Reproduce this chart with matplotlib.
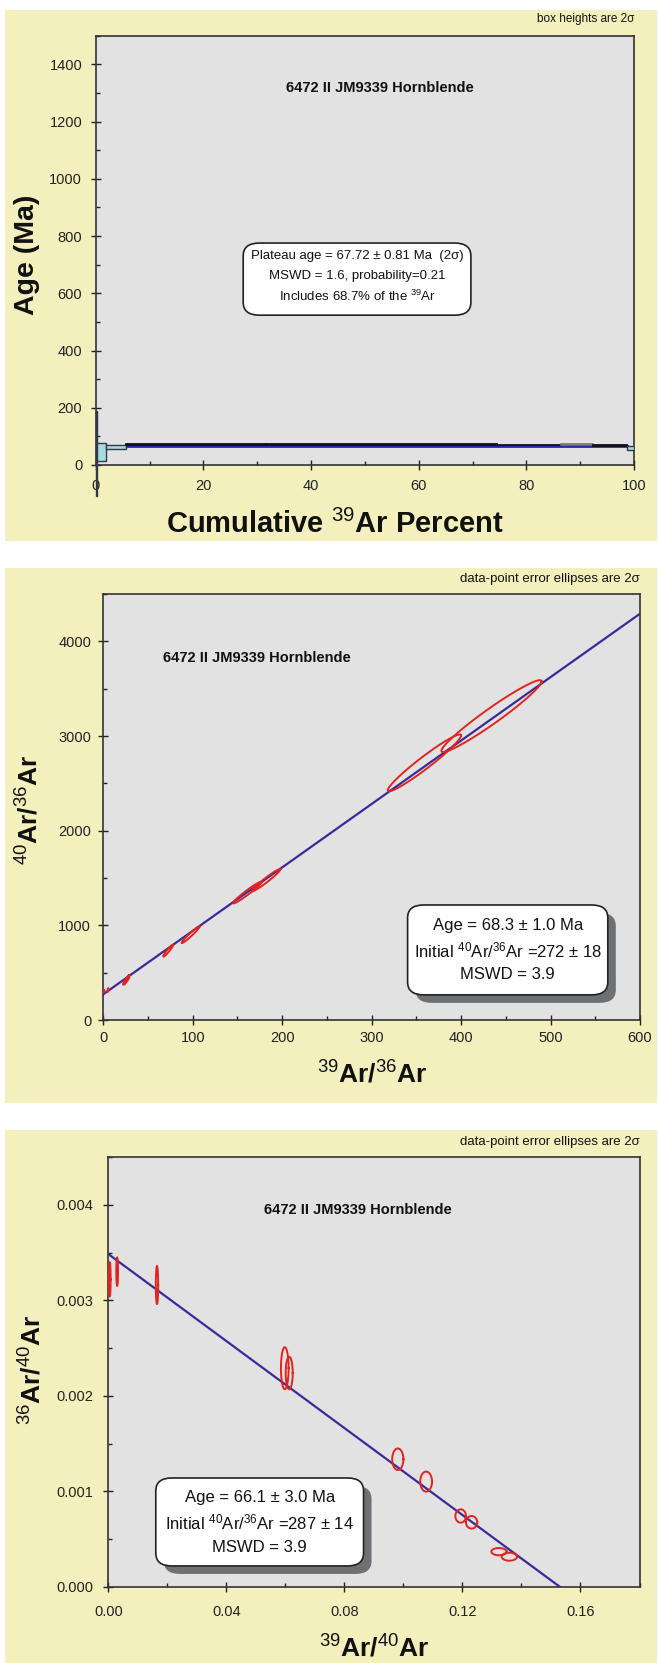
import numpy as np
import matplotlib
matplotlib.use('Agg')
import matplotlib.pyplot as plt
from matplotlib.patches import Rectangle, FancyBboxPatch
from matplotlib.ticker import MultipleLocator, FormatStrFormatter

plt.rcParams['font.family'] = ['Liberation Sans', 'DejaVu Sans']
plt.rcParams['mathtext.fontset'] = 'custom'
plt.rcParams['mathtext.rm'] = 'Liberation Sans'
plt.rcParams['mathtext.it'] = 'Liberation Sans:italic'
plt.rcParams['mathtext.bf'] = 'Liberation Sans:bold'

SAMPLE = '6472 II JM9339 Hornblende'

# --- age spectrum (cumulative 39Ar %, age Ma, 2 sigma) ---
step_lo = [0.0, 0.25, 1.9, 5.6, 31.6, 74.6, 86.5, 92.3, 98.7]
step_hi = [0.25, 1.9, 5.6, 31.6, 74.6, 86.5, 92.3, 98.7, 100.0]
step_age = [40.0, 46.5, 62.5, 70.5, 71.5, 69.5, 71.0, 68.0, 60.0]
step_err = [150.0, 31.5, 7.5, 1.2, 1.2, 1.2, 1.2, 1.2, 8.0]
step_kind = ['open', 'open', 'open', 'plat', 'plat', 'plat', 'grey', 'plat', 'open']
plateau_age = 67.72
plateau_span = [0.8, 98.7]

# --- normal isochron 39Ar/36Ar vs 40Ar/36Ar (2 sigma half-extents, correlation) ---
iso_x = [0.15, 0.9, 5.2, 25.4, 25.9, 72.5, 97.5, 161.0, 182.0, 359.0, 434.0]
iso_y = [310, 303, 316, 423, 415, 732, 900, 1346, 1477, 2716, 3210]
iso_sx = [0.15, 0.15, 0.4, 3.4, 3.0, 5.5, 10.0, 16.0, 16.0, 41.0, 56.0]
iso_sy = [17, 14, 20, 50, 40, 62, 88, 115, 118, 300, 380]
iso_rho = [0.3, 0.3, 0.5, 0.95, 0.93, 0.95, 0.97, 0.97, 0.97, 0.965, 0.966]
iso_intercept = 272.0
iso_slope = 6.7

# --- inverse isochron 39Ar/40Ar vs 36Ar/40Ar ---
inv_x = [0.0005, 0.0030, 0.0165, 0.0598, 0.0613, 0.0981, 0.1077, 0.1194, 0.1231, 0.1324, 0.1359]
inv_y = [0.00322, 0.00330, 0.00316, 0.00229, 0.00224, 0.001337, 0.001103, 0.000743, 0.000677, 0.00037, 0.000317]
inv_sx = [0.0003, 0.0003, 0.0004, 0.0013, 0.0012, 0.0019, 0.0020, 0.0018, 0.0019, 0.0026, 0.0026]
inv_sy = [0.00018, 0.00015, 0.00020, 0.00022, 0.00017, 0.000113, 0.000105, 0.00007, 0.000066, 0.000038, 0.000042]
inv_rho = [0.0] * 11
inv_y0 = 1.0 / 287.0
inv_x0 = 0.1531

YELLOW = '#f4f0bd'
GREY = '#e2e2e2'
LINE = '#3b2a9c'
RED = '#e3231e'
W, H = 659.0, 1663.0


def fig_rect(x0, y0, x1, y1):
    # pixel box (top-left origin) -> figure fraction [l, b, w, h]
    return [x0 / W, 1 - y1 / H, (x1 - x0) / W, (y1 - y0) / H]


def style_axes(ax):
    ax.set_facecolor(GREY)
    for s in ax.spines.values():
        s.set_color('#333333')
        s.set_linewidth(1.2)
    ax.tick_params(which='major', direction='inout', length=7.5, width=1.0,
                   labelsize=10.5, color='#222222', labelcolor='#222222')
    ax.tick_params(which='minor', direction='in', length=2.6, width=1.0, color='#222222')


def ellipse(ax, cx, cy, sx, sy, rho):
    t = np.linspace(0, 2 * np.pi, 160)
    x = cx + sx * np.cos(t)
    y = cy + sy * (rho * np.cos(t) + np.sqrt(1 - rho ** 2) * np.sin(t))
    ax.plot(x, y, color=RED, lw=1.4, zorder=4, solid_joinstyle='round')


def result_box(ax, x0, y0, x1, y1, lines, ys, size, shadow=True):
    bw = ax.get_position().width * W
    bh = ax.get_position().height * H
    if shadow:
        sh = FancyBboxPatch((x0 + 8 / bw, y0 - 8 / bh), x1 - x0, y1 - y0,
                            boxstyle='round,pad=0,rounding_size=0.03',
                            transform=ax.transAxes, fc='#6d7174', ec='none', zorder=5)
        ax.add_patch(sh)
    box = FancyBboxPatch((x0, y0), x1 - x0, y1 - y0,
                         boxstyle='round,pad=0,rounding_size=0.03',
                         transform=ax.transAxes, fc='white', ec='#222222', lw=1.2, zorder=6)
    ax.add_patch(box)
    for s, y in zip(lines, ys):
        ax.text((x0 + x1) / 2, y, s, transform=ax.transAxes, ha='center', va='center',
                fontsize=size, color='#111111', zorder=7)


fig = plt.figure(figsize=(W / 100, H / 100), dpi=100)

# yellow panels
for y0, y1 in [(10, 541), (568, 1103), (1130, 1663)]:
    l, b, w, h = fig_rect(5, y0, 657, y1)
    fig.add_artist(Rectangle((l, b), w, h, transform=fig.transFigure,
                             fc=YELLOW, ec='none', zorder=-1))

# ---------- panel 1: age spectrum ----------
ax1 = fig.add_axes(fig_rect(95.7, 35.7, 634, 465))
style_axes(ax1)
for lo, hi, a, e, k in zip(step_lo, step_hi, step_age, step_err, step_kind):
    if k == 'open':
        fc, ec, lw = '#a8dce4', '#2e3a44', 1.0
    elif k == 'grey':
        fc, ec, lw = '#777777', '#777777', 1.2
    else:
        fc, ec, lw = '#111111', '#111111', 1.3
    ax1.add_patch(Rectangle((lo, a - e), hi - lo, 2 * e, fc=fc, ec=ec, lw=lw,
                            zorder=3, clip_on=(k != 'open' or e < 100)))
ax1.plot(plateau_span, [plateau_age, plateau_age], color='#2626a8', lw=2.0, zorder=2.5)
ax1.set_xlim(0, 100)
ax1.set_ylim(0, 1500)
ax1.xaxis.set_major_locator(MultipleLocator(20))
ax1.xaxis.set_minor_locator(MultipleLocator(10))
ax1.yaxis.set_major_locator(MultipleLocator(200))
ax1.yaxis.set_minor_locator(MultipleLocator(100))
ax1.tick_params(axis='y', which='major', pad=6)
ax1.tick_params(axis='x', which='major', pad=6)
ax1.text((380 - 95.7) / 538.3, 0.879, SAMPLE, transform=ax1.transAxes, ha='center',
         va='center', fontsize=10.5, fontweight='bold', color='#111111')
ax1.text(1.0, 1.025, 'box heights are 2σ', transform=ax1.transAxes, ha='right',
         va='bottom', fontsize=8.5, color='#111111')
result_box(ax1, 0.274, 0.349, 0.697, 0.517,
           ['Plateau age = 67.72 ± 0.81 Ma  (2σ)', 'MSWD = 1.6, probability=0.21',
            'Includes 68.7% of the $^{39}$Ar'],
           [0.487, 0.440, 0.392], 9.5, shadow=False)
fig.text(27 / W, 1 - 255 / H, 'Age (Ma)', rotation=90, ha='center', va='center',
         fontsize=20.5, fontweight='bold', color='#111111')
fig.text(335 / W, 1 - 524 / H, 'Cumulative $^{39}$Ar Percent', ha='center', va='center',
         fontsize=21, fontweight='bold', color='#111111')

# ---------- panel 2: normal isochron ----------
ax2 = fig.add_axes(fig_rect(103.3, 594, 640, 1020))
style_axes(ax2)
ax2.set_xlim(0, 600)
ax2.set_ylim(0, 4500)
xs = np.array([0, 600])
ax2.plot(xs, iso_intercept + iso_slope * xs, color=LINE, lw=1.6, zorder=3)
for cx, cy, sx, sy, r in zip(iso_x, iso_y, iso_sx, iso_sy, iso_rho):
    ellipse(ax2, cx, cy, sx, sy, r)
ax2.xaxis.set_major_locator(MultipleLocator(100))
ax2.xaxis.set_minor_locator(MultipleLocator(50))
ax2.yaxis.set_major_locator(MultipleLocator(1000))
ax2.yaxis.set_minor_locator(MultipleLocator(500))
ax2.tick_params(axis='y', which='major', pad=5)
ax2.tick_params(axis='x', which='major', pad=4)
ax2.text((163 - 103.3) / 536.7, 0.85, SAMPLE, transform=ax2.transAxes, ha='left',
         va='center', fontsize=10.5, fontweight='bold', color='#111111')
ax2.text(1.0, 1.02, 'data-point error ellipses are 2σ', transform=ax2.transAxes,
         ha='right', va='bottom', fontsize=9.5, color='#111111')
result_box(ax2, 0.567, 0.059, 0.940, 0.270,
           ['Age = 68.3 ± 1.0 Ma', 'Initial $^{40}$Ar/$^{36}$Ar =272 ± 18', 'MSWD = 3.9'],
           [0.223, 0.164, 0.106], 12)
fig.text(30 / W, 1 - 810 / H, '$^{40}$Ar/$^{36}$Ar', rotation=90, ha='center', va='center',
         fontsize=19, fontweight='bold', color='#111111')
fig.text(372 / W, 1 - 1074 / H, '$^{39}$Ar/$^{36}$Ar', ha='center', va='center',
         fontsize=19, fontweight='bold', color='#111111')

# ---------- panel 3: inverse isochron ----------
ax3 = fig.add_axes(fig_rect(108.3, 1157, 639.5, 1587))
style_axes(ax3)
ax3.set_xlim(0, 0.18)
ax3.set_ylim(0, 0.0045)
xs = np.array([0.0, inv_x0])
ax3.plot(xs, inv_y0 * (1 - xs / inv_x0), color=LINE, lw=1.6, zorder=3)
for cx, cy, sx, sy, r in zip(inv_x, inv_y, inv_sx, inv_sy, inv_rho):
    ellipse(ax3, cx, cy, sx, sy, r)
ax3.xaxis.set_major_locator(MultipleLocator(0.04))
ax3.xaxis.set_minor_locator(MultipleLocator(0.02))
ax3.yaxis.set_major_locator(MultipleLocator(0.001))
ax3.yaxis.set_minor_locator(MultipleLocator(0.0005))
ax3.xaxis.set_major_formatter(FormatStrFormatter('%.2f'))
ax3.yaxis.set_major_formatter(FormatStrFormatter('%.3f'))
ax3.tick_params(axis='y', which='major', pad=7)
ax3.tick_params(axis='x', which='major', pad=9)
ax3.text((358 - 108.3) / 531.2, 0.877, SAMPLE, transform=ax3.transAxes, ha='center',
         va='center', fontsize=10.5, fontweight='bold', color='#111111')
ax3.text(1.0, 1.02, 'data-point error ellipses are 2σ', transform=ax3.transAxes,
         ha='right', va='bottom', fontsize=9.5, color='#111111')
result_box(ax3, 0.0894, 0.049, 0.4805, 0.2535,
           ['Age = 66.1 ± 3.0 Ma', 'Initial $^{40}$Ar/$^{36}$Ar =287 ± 14', 'MSWD = 3.9'],
           [0.209, 0.151, 0.093], 12)
fig.text(33 / W, 1 - 1370 / H, '$^{36}$Ar/$^{40}$Ar', rotation=90, ha='center', va='center',
         fontsize=19, fontweight='bold', color='#111111')
fig.text(374 / W, 1 - 1648 / H, '$^{39}$Ar/$^{40}$Ar', ha='center', va='center',
         fontsize=19, fontweight='bold', color='#111111')

fig.savefig('out.png', dpi=100, facecolor='white')
